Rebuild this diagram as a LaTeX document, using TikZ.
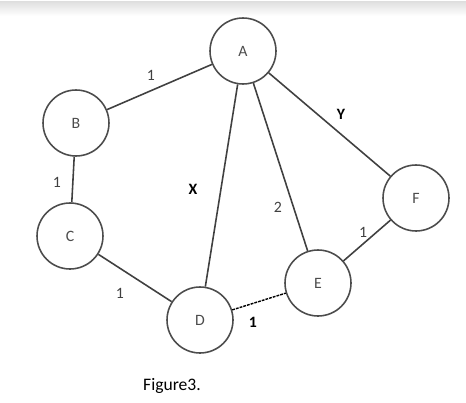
\documentclass[tikz,border=0pt]{standalone}
\usepackage{fontspec}
\setmainfont{Carlito}
\usetikzlibrary{positioning}

\begin{document}
\begin{tikzpicture}[
  x=0.02cm, y=-0.02cm,
  vtx/.style={draw=black!70, circle, line width=0.9pt, minimum size=1.32cm, inner sep=0pt, font=\small, text=black!70},
  edge/.style={draw=black!75, line width=0.9pt},
  wt/.style={font=\small, text=black!75, inner sep=1pt},
  var/.style={font=\small\bfseries, text=black, inner sep=1pt}
]
\useasboundingbox (0,0) rectangle (466,402);
\shade[top color=black!12, bottom color=white] (0,2) rectangle (466,16);

% vertices
\node[vtx] (A) at (243,51) {A};
\node[vtx] (B) at (76,123) {B};
\node[vtx] (C) at (70,236) {C};
\node[vtx] (D) at (200,320) {D};
\node[vtx] (E) at (318,283) {E};
\node[vtx] (F) at (416,198) {F};

% edges
\draw[edge] (A) -- (B);
\draw[edge] (B) -- (C);
\draw[edge] (C) -- (D);
\draw[edge] (A) -- (D);
\draw[edge] (A) -- (E);
\draw[edge] (A) -- (F);
\draw[edge] (F) -- (E);
\draw[black, line width=0.8pt, dash pattern=on 1.6pt off 0.6pt] (D) -- (E);

% weights
\node[wt] (wAB) at (151,75) {1};
\node[wt] (wBC) at (57,182) {1};
\node[wt] (wCD) at (120,293) {1};
\node[wt] (wAE) at (278,207) {2};
\node[wt] (wFE) at (363,232) {1};
\node[var] (wDE) at (253,322) {1};
\node[var] (wAD) at (193,189) {X};
\node[var] (wAF) at (341,114) {Y};

\node[font=\normalsize] (cap) at (172,386) {Figure3.};
\end{tikzpicture}
\end{document}
